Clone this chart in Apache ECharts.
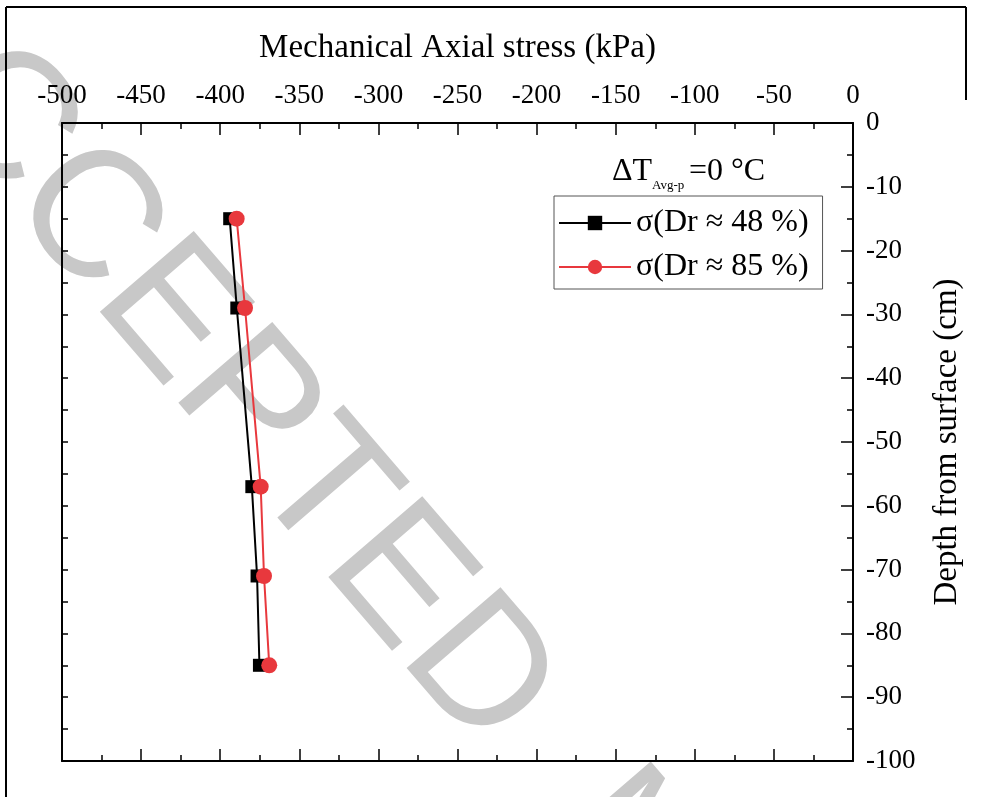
<!DOCTYPE html>
<html lang="en">
<head>
    <meta charset="UTF-8">
    <title>Mechanical Axial stress</title>
    <style>
        html,body{
            margin: 0;
            padding: 0;
            background: #fff;
        }
        #chartmain{
            width: 982px;
            height: 797px;
        }
    </style>
</head>
<body>
<div id="chartmain"></div>
<script src="https://cdn.jsdelivr.net/npm/echarts@6/dist/echarts.min.js"></script>
<script type="text/javascript">
    // depth of the gauges (cm)
    var depth48 = [-15, -29, -57, -71, -85];
    var depth85 = [-15, -29, -57, -71, -85];
    // stress (kPa)
    var stress48 = [-394, -389.5, -380, -376.7, -375.2];
    var stress85 = [-389.6, -384.3, -374.4, -372.3, -369];
    var seriesNames = ['σ(Dr ≈ 48 %)', 'σ(Dr ≈ 85 %)'];

    var serif = 'Liberation Serif';

    function pairs(xs, ys) {
        var out = [];
        for (var i = 0; i < xs.length; i++) {
            out.push([xs[i], ys[i]]);
        }
        return out;
    }

    var tickStyle = {show: true, inside: true, length: 12, lineStyle: {color: '#000', width: 1.5}};
    var minorStyle = {show: true, splitNumber: 2, length: 6, lineStyle: {color: '#000', width: 1.5}};
    var lineStyle = {show: true, onZero: false, lineStyle: {color: '#000', width: 2}};

    var option = {
        animation: false,
        grid: {left: 62, top: 123, width: 791, height: 638},
        legend: {
            orient: 'vertical',
            left: 554,
            top: 196,
            padding: [9, 14, 4, 4],
            itemGap: 8,
            itemWidth: 72,
            itemHeight: 18,
            borderColor: '#555',
            borderWidth: 1,
            textStyle: {fontFamily: serif, fontSize: 32, color: '#000', lineHeight: 36},
            data: seriesNames
        },
        xAxis: [{
            type: 'value',
            position: 'top',
            min: -500,
            max: 0,
            interval: 50,
            name: 'Mechanical Axial stress (kPa)',
            nameLocation: 'middle',
            nameGap: 58,
            nameTextStyle: {fontFamily: serif, fontSize: 33, color: '#000'},
            axisLine: lineStyle,
            axisTick: tickStyle,
            minorTick: minorStyle,
            splitLine: {show: false},
            axisLabel: {fontFamily: serif, fontSize: 27, color: '#000', margin: 14}
        }, {
            type: 'value',
            position: 'bottom',
            min: -500,
            max: 0,
            interval: 50,
            axisLine: lineStyle,
            axisTick: tickStyle,
            minorTick: minorStyle,
            splitLine: {show: false},
            axisLabel: {show: false}
        }],
        yAxis: [{
            type: 'value',
            position: 'right',
            min: -100,
            max: 0,
            interval: 10,
            name: 'Depth from surface (cm)',
            nameLocation: 'middle',
            nameRotate: 90,
            nameGap: 78,
            nameTextStyle: {fontFamily: serif, fontSize: 33, color: '#000'},
            axisLine: lineStyle,
            axisTick: tickStyle,
            minorTick: minorStyle,
            splitLine: {show: false},
            axisLabel: {fontFamily: serif, fontSize: 27, color: '#000', margin: 13}
        }, {
            type: 'value',
            position: 'left',
            min: -100,
            max: 0,
            interval: 10,
            axisLine: lineStyle,
            axisTick: {show: true, inside: true, length: 6, lineStyle: {color: '#000', width: 1.5}},
            minorTick: minorStyle,
            splitLine: {show: false},
            axisLabel: {show: false}
        }],
        series: [{
            name: seriesNames[0],
            type: 'line',
            xAxisIndex: 0,
            yAxisIndex: 0,
            data: pairs(stress48, depth48),
            symbol: 'rect',
            symbolSize: 13,
            itemStyle: {color: '#000'},
            lineStyle: {color: '#000', width: 2},
            z: 3
        }, {
            name: seriesNames[1],
            type: 'line',
            xAxisIndex: 0,
            yAxisIndex: 0,
            data: pairs(stress85, depth85),
            symbol: 'circle',
            symbolSize: 16,
            itemStyle: {color: '#e8383d'},
            lineStyle: {color: '#e8383d', width: 2},
            z: 4
        }],
        graphic: [
            // watermark
            {
                type: 'text',
                x: -120,
                y: -20,
                rotation: -0.86,
                z: 0,
                silent: true,
                style: {
                    text: 'ACCEPTED  MANUSCRIPT',
                    font: '180px "Liberation Sans"',
                    fill: '#c8c8c8',
                    verticalAlign: 'middle'
                }
            },
            // outer frame
            {type: 'line', shape: {x1: 6, y1: 7, x2: 966, y2: 7}, style: {stroke: '#000', lineWidth: 2}, z: 10},
            {type: 'line', shape: {x1: 6, y1: 7, x2: 6, y2: 797}, style: {stroke: '#000', lineWidth: 2}, z: 10},
            {type: 'line', shape: {x1: 966, y1: 7, x2: 966, y2: 100}, style: {stroke: '#000', lineWidth: 2}, z: 10},
            // legend heading
            {type: 'text', x: 612, y: 172, z: 10, style: {text: 'ΔT', font: '32px "Liberation Serif"', fill: '#000', verticalAlign: 'middle'}},
            {type: 'text', x: 652, y: 186, z: 10, style: {text: 'Avg-p', font: '13px "Liberation Serif"', fill: '#000', verticalAlign: 'middle'}},
            {type: 'text', x: 689, y: 172, z: 10, style: {text: '=0 °C', font: '32px "Liberation Serif"', fill: '#000', verticalAlign: 'middle'}}
        ]
    };

    var myChart = echarts.init(document.getElementById('chartmain'));
    myChart.setOption(option);
</script>
</body>
</html>
